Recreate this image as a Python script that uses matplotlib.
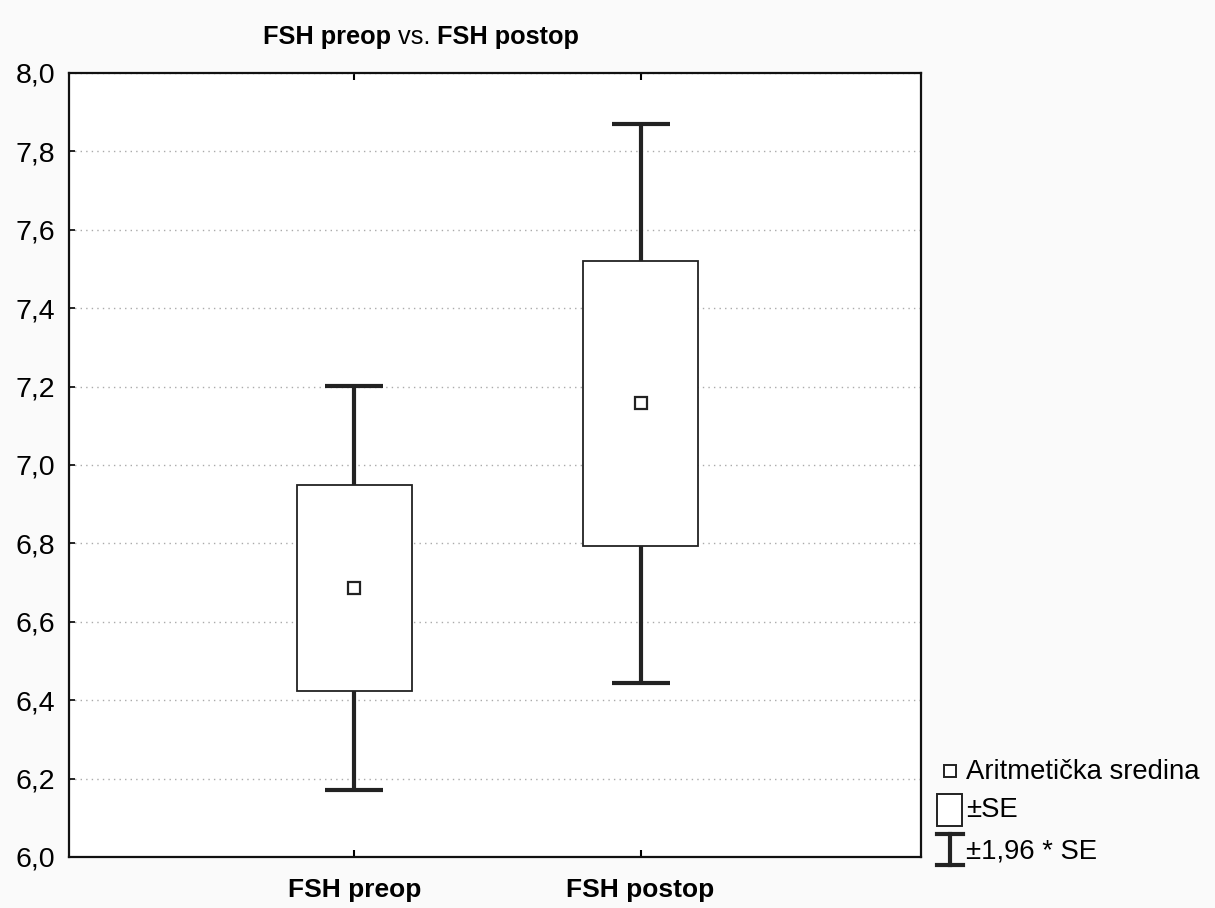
import numpy as np
import matplotlib.pyplot as plt
from matplotlib.patches import Rectangle
from matplotlib.lines import Line2D

plt.rcParams['font.family'] = ['Liberation Sans', 'DejaVu Sans']

## values
groups = ["FSH preop", "FSH postop"]
means = [6.686, 7.157]
se = [0.263, 0.364]
yticks = [6.0, 6.2, 6.4, 6.6, 6.8, 7.0, 7.2, 7.4, 7.6, 7.8, 8.0]

x = np.arange(1, len(groups) + 1)
means = np.array(means)
se = np.array(se)
ci = 1.96 * se

W, H = 1215, 908
fig = plt.figure(figsize=(W / 100, H / 100), dpi=100, facecolor='#fafafa')
ax = fig.add_axes([69 / W, 1 - 857 / H, (921 - 69) / W, (857 - 73) / H])
ax.set_facecolor('white')

# whiskers (+-1.96 SE), box (+-SE), mean
ax.errorbar(x, means, yerr=ci, fmt='none', ecolor='#222222', elinewidth=3,
            capsize=21, capthick=3, zorder=2)
ax.bar(x, 2 * se, bottom=means - se, width=0.4, facecolor='white',
       edgecolor='#222222', linewidth=1.3, zorder=3)
ax.plot(x, means, 's', ms=8, mfc='white', mec='#222222', mew=1.6, zorder=4)

ax.set_xlim(0.003, 2.98)
ax.set_ylim(6.0, 8.0)
ax.set_yticks(yticks)
ax.set_yticklabels([f"{v:.1f}".replace('.', ',') for v in yticks], fontsize=20.5)
ax.set_xticks(x)
ax.set_xticklabels(groups, fontsize=19, fontweight='bold')
ax.tick_params(axis='x', direction='in', length=5, width=1.5, top=True, pad=15)
ax.tick_params(axis='y', direction='in', length=4, width=1.2, pad=10)
ax.yaxis.grid(True, linestyle=(0, (1, 3)), color='#aaaaaa', linewidth=1)
ax.set_axisbelow(True)
for s in ax.spines.values():
    s.set_linewidth(1.6)
    s.set_color('#111111')

# title with mixed weights
t1 = fig.text(263 / W, 1 - 37 / H, "FSH preop", fontsize=18.3, fontweight='bold',
              va='center', ha='left')
t2 = ax.annotate(" vs. ", xy=(1, 0), xycoords=t1, va='bottom', ha='left',
                 fontsize=18.3, annotation_clip=False)
t3 = ax.annotate("FSH postop", xy=(1, 0), xycoords=t2, va='bottom', ha='left',
                 fontsize=18.3, fontweight='bold', annotation_clip=False)

# legend drawn in figure pixels
def px(xp, yp):
    return xp / W, 1 - yp / H

fig.add_artist(Line2D([px(950, 0)[0]], [px(0, 771)[1]], marker='s', ms=8,
                      mfc='white', mec='#222222', mew=1.4))
fig.text(*px(966, 772), "Aritmetička sredina", fontsize=19.8, va='center')
fig.add_artist(Rectangle(px(937, 826), 25 / W, 32 / H, facecolor='white',
                         edgecolor='#222222', linewidth=1.4,
                         transform=fig.transFigure))
fig.text(*px(966, 810), "±SE", fontsize=19.8, va='center')
for xs, ys in [((937, 963), (834, 834)), ((937, 963), (865, 865)),
               ((950, 950), (834, 865))]:
    fig.add_artist(Line2D([px(v, 0)[0] for v in xs], [px(0, v)[1] for v in ys],
                          color='#222222', linewidth=3))
fig.text(*px(966, 851), "±1,96 * SE", fontsize=19.8, va='center')

fig.savefig("out.png", dpi=100, facecolor=fig.get_facecolor())
